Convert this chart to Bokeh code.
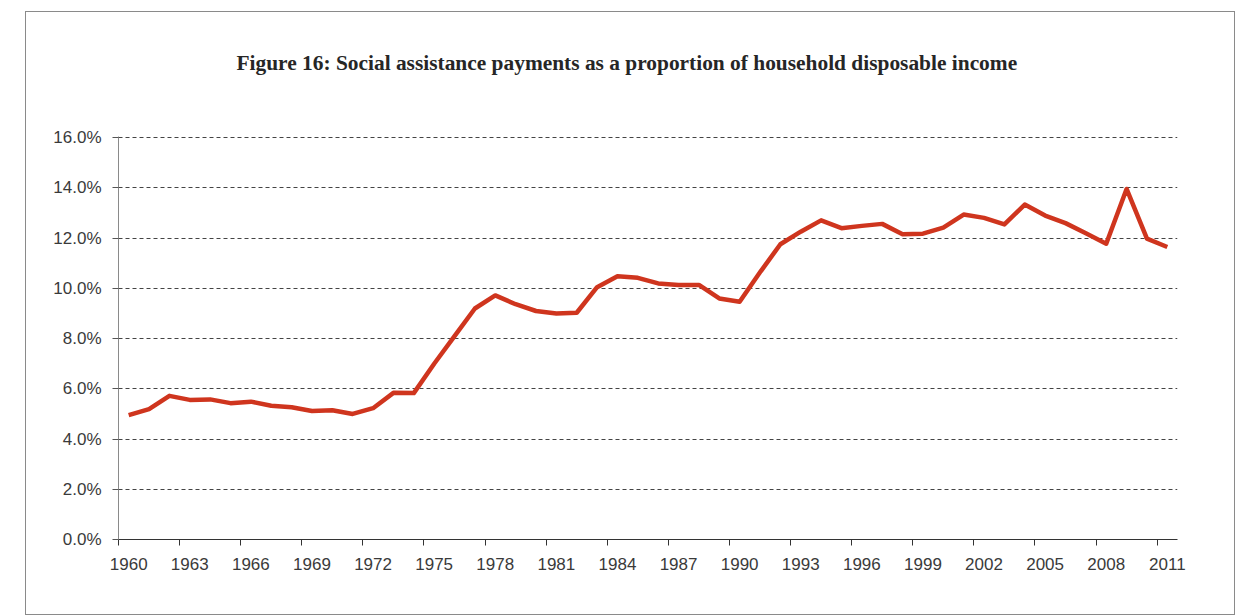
from bokeh.plotting import figure
from bokeh.models import FixedTicker, PrintfTickFormatter, Title, Range1d
from bokeh.embed import file_html
from bokeh.resources import INLINE

years = list(range(1960, 2012))
share = [4.95, 5.19, 5.72, 5.56, 5.58, 5.43, 5.49, 5.33, 5.27, 5.12, 5.15, 5.0,
         5.23, 5.84, 5.83, 7.0, 8.1, 9.2, 9.72, 9.37, 9.1, 9.0, 9.03, 10.05,
         10.48, 10.42, 10.2, 10.14, 10.14, 9.6, 9.47, 10.64, 11.76, 12.26, 12.71,
         12.4, 12.49, 12.57, 12.16, 12.18, 12.42, 12.94, 12.81, 12.55, 13.34,
         12.9, 12.6, 12.2, 11.78, 13.96, 11.98, 11.65]
y_ticks = [0, 2, 4, 6, 8, 10, 12, 14, 16]
x_label_years = list(range(1960, 2012, 3))
title_text = "Figure 16: Social assistance payments as a proportion of household disposable income"

p = figure(width=1210, height=604, output_backend="svg", toolbar_location=None,
           x_range=Range1d(years[0] - 0.5, years[-1] + 0.5), y_range=Range1d(0, 16.05),
           min_border_left=92, min_border_right=59, min_border_top=124, min_border_bottom=77)
p.styles = {"border": "1px solid #8a8a8a", "margin-left": "25px", "margin-top": "11px"}
p.outline_line_color = None
p.background_fill_color = "white"
p.border_fill_color = "white"

# empty spacer panel next to the plot area, then the real title further out
spacer = Title(text=" ", text_font_size="1px", standoff=22)
p.add_layout(spacer, "above")
t = Title(text=title_text, align="left", text_font="Liberation Serif",
          text_font_style="bold", text_font_size="21.4px", text_color="#262626",
          standoff=73, offset=118)
p.add_layout(t, "above")

p.line(years, share, line_color="#cf351e", line_width=4.5, line_join="round")

# x axis
p.xaxis.ticker = FixedTicker(ticks=x_label_years, minor_ticks=[y - 0.5 for y in x_label_years])
p.xaxis.major_tick_line_color = None
p.xaxis.major_tick_out = 0
p.xaxis.major_tick_in = 0
p.xaxis.minor_tick_line_color = "#333333"
p.xaxis.minor_tick_out = 6
p.xaxis.minor_tick_in = 0
p.xaxis.axis_line_color = "#333333"
p.xaxis.major_label_text_font = "Liberation Sans"
p.xaxis.major_label_text_font_size = "17px"
p.xaxis.major_label_text_color = "#3a3a3a"
p.xaxis.major_label_standoff = 12
p.xgrid.grid_line_color = None

# y axis
p.yaxis.ticker = FixedTicker(ticks=y_ticks, minor_ticks=[])
p.yaxis.formatter = PrintfTickFormatter(format="%.1f%%")
p.yaxis.axis_line_color = "#8a8a8a"
p.yaxis.major_tick_line_color = "#555555"
p.yaxis.major_tick_out = 6
p.yaxis.major_tick_in = 0
p.yaxis.minor_tick_line_color = None
p.yaxis.major_label_text_font = "Liberation Sans"
p.yaxis.major_label_text_font_size = "17px"
p.yaxis.major_label_text_color = "#3a3a3a"
p.yaxis.major_label_standoff = 11
p.ygrid.grid_line_color = "#444444"
p.ygrid.grid_line_dash = "4 3"
p.ygrid.grid_line_width = 1

open("out.html", "w").write(file_html(p, INLINE))
